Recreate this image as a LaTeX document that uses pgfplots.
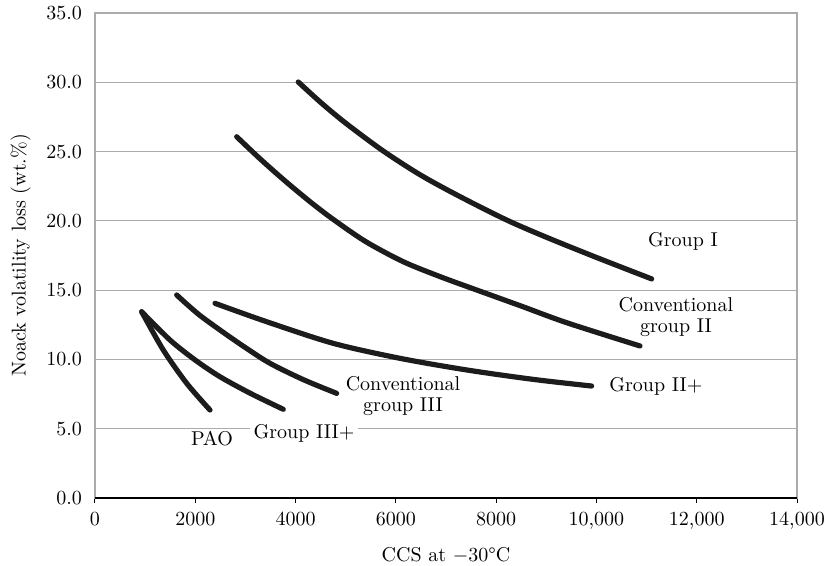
\documentclass[border=0pt]{standalone}
\usepackage{pgfplots}
\pgfplotsset{compat=1.18}
\usetikzlibrary{calc}
\definecolor{gridgray}{HTML}{ABABAB}
\definecolor{curve}{HTML}{1C1C1C}
\begin{document}
\begin{tikzpicture}
\begin{axis}[
  scale only axis,
  width=351pt, height=242.5pt,
  xmin=0, xmax=14000, ymin=0, ymax=35,
  scaled x ticks=false,
  xtick={0,2000,4000,6000,8000,10000,12000,14000},
  xticklabels={0,2000,4000,6000,8000,{10{,}000},{12{,}000},{14{,}000}},
  ytick={0,5,10,15,20,25,30,35},
  yticklabel style={/pgf/number format/fixed,/pgf/number format/fixed zerofill,/pgf/number format/precision=1, xshift=-3pt},
  ymajorgrids,
  grid style={gridgray, line width=0.6pt},
  axis line style={gridgray, line width=0.6pt},
  tick pos=left,
  xtick align=outside,
  major x tick style={black, line width=0.5pt},
  major tick length=2.5pt,
  ytick style={draw=none},
  tick label style={font=\fontsize{10}{12}\selectfont},
  xticklabel style={yshift=-1pt},
  label style={font=\fontsize{10}{12}\selectfont},
  xlabel={CCS at $-$30\textdegree C},
  ylabel={Noack volatility loss (wt.\%)},
  xlabel style={yshift=-2.3pt},
  ylabel style={yshift=1pt},
  clip=false,
]
\draw[black, line width=0.7pt] (rel axis cs:0,0) -- (rel axis cs:1,0);
% Group I
\addplot[curve, line width=2.6pt, line cap=round, smooth, tension=0.5] coordinates {
 (4054,30.02) (4500,28.55) (5000,27.05) (5749,25.04) (6500,23.29) (7279,21.75) (8210,20.06) (9000,18.82) (10000,17.36) (11102,15.81)};
% Conventional group II
\addplot[curve, line width=2.6pt, line cap=round, smooth, tension=0.5] coordinates {
 (2826,26.07) (3300,24.45) (3800,22.85) (4300,21.35) (4753,20.1) (5400,18.5) (6149,17.05) (6900,15.95) (7612,15.01) (8500,13.85) (9407,12.65) (10869,10.97)};
% Group II+
\addplot[curve, line width=2.6pt, line cap=round, smooth, tension=0.5] coordinates {
 (2393,14.05) (3424,12.72) (4752,11.16) (6082,10.08) (7412,9.24) (8740,8.56) (9904,8.08)};
% Conventional group III
\addplot[curve, line width=2.6pt, line cap=round, smooth, tension=0.5] coordinates {
 (1629,14.65) (2050,13.3) (2493,12.12) (3000,10.85) (3490,9.72) (4150,8.55) (4820,7.55)};
% Group III+
\addplot[curve, line width=2.6pt, line cap=round, smooth, tension=0.5] coordinates {
 (931,13.44) (1496,11.40) (2000,9.95) (2493,8.75) (3100,7.55) (3755,6.40)};
% PAO
\addplot[curve, line width=2.6pt, line cap=round, smooth, tension=0.5] coordinates {
 (931,13.44) (1362,10.68) (1828,8.28) (2293,6.35)};

\node[font=\fontsize{10}{12}\selectfont] at (axis cs:11725,18.5) {Group I};
\node[font=\fontsize{10}{12}\selectfont, align=center, inner sep=0pt] at (axis cs:11585,13.06) {Conventional\\[-1.5pt]group II};
\node[font=\fontsize{10}{12}\selectfont, anchor=west, inner sep=0pt] at (axis cs:10250,8.03) {Group II+};
\node[font=\fontsize{10}{12}\selectfont, align=center, inner sep=0pt] at (axis cs:6142,7.38) {Conventional\\[-1.5pt]group III};
\node[font=\fontsize{10}{12}\selectfont, fill=white, inner xsep=0pt, inner ysep=1pt, minimum width=40pt] at (axis cs:2333,4.31) {PAO\hspace{9pt}};
\node[font=\fontsize{10}{12}\selectfont, fill=white, inner xsep=2pt, inner ysep=1pt] at (axis cs:4170,4.67) {Group III+};
\end{axis}
\pgfresetboundingbox
\path[use as bounding box] ($(current axis.south west)+(-47.5pt,-34pt)$) rectangle ($(current axis.north east)+(13.5pt,6.5pt)$);
\end{tikzpicture}
\end{document}
